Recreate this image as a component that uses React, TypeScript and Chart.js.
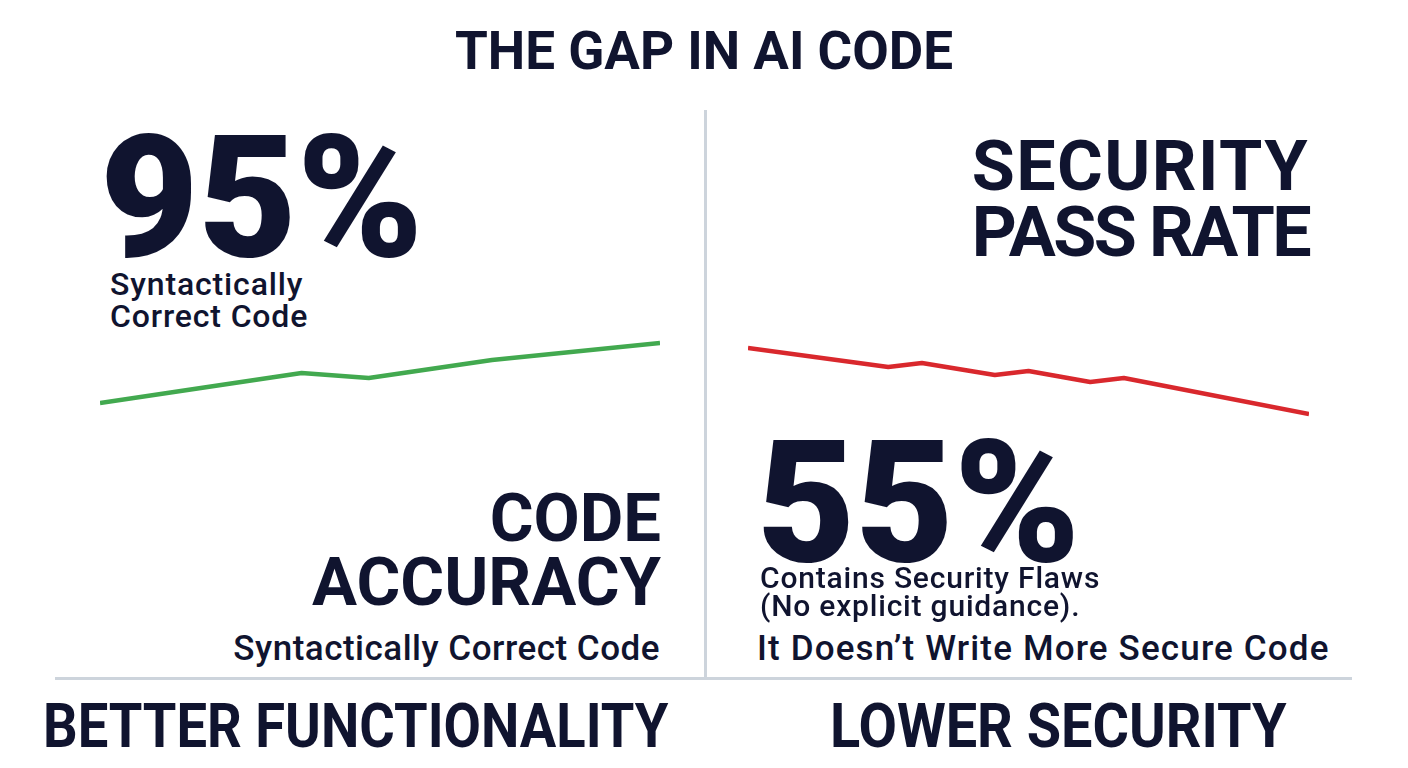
import React, { useEffect, useRef } from 'react';
import { Chart, registerables } from 'chart.js';

Chart.register(...registerables);

// Trend lines (x = position along the period, 0-100; y = relative level, 0-100)
const accuracyX = [0, 18, 36, 48, 70, 100];
const accuracyY = [20, 35, 50, 45, 63, 80];
const securityX = [0, 25, 31, 44, 50, 61, 67, 100];
const securityY = [82, 63, 67, 55, 59, 48, 52, 16];

const accuracyValue = '95%';
const securityValue = '55%';

const NAVY = '#10142f';
const FONT = 'Roboto, "Noto Sans", sans-serif';

// place text so that the capital letters start at capTop
const topFor = (capTop: number, fs: number, lh: number) =>
  capTop - (lh - 1.172 * fs) / 2 - 0.217 * fs;

type TextProps = {
  capTop: number;
  fs: number;
  lh?: number;
  weight?: number;
  left?: number;
  right?: number;
  center?: number;
  spacing?: number;
  scaleX?: number;
  children: React.ReactNode;
};

const Text: React.FC<TextProps> = ({ capTop, fs, lh, weight = 700, left, right, center, spacing = 0, scaleX, children }) => {
  const lineH = lh ?? fs;
  const style: React.CSSProperties = {
    position: 'absolute',
    top: topFor(capTop, fs, lineH),
    fontSize: fs,
    lineHeight: `${lineH}px`,
    fontWeight: weight,
    color: NAVY,
    whiteSpace: 'nowrap',
    letterSpacing: spacing,
  };
  if (left !== undefined) {
    style.left = left;
    if (scaleX) {
      style.transform = `scaleX(${scaleX})`;
      style.transformOrigin = 'left top';
    }
  }
  if (right !== undefined) {
    style.right = 1408 - right;
    style.textAlign = 'right';
  }
  if (center !== undefined) {
    style.left = center;
    style.transform = 'translateX(-50%)';
    style.textAlign = 'center';
  }
  return <div style={style}>{children}</div>;
};

type TrendProps = {
  xs: number[];
  ys: number[];
  color: string;
  left: number;
  top: number;
  width: number;
  height: number;
};

const TrendLine: React.FC<TrendProps> = ({ xs, ys, color, left, top, width, height }) => {
  const chartRef = useRef<HTMLCanvasElement>(null);
  const chartInstance = useRef<Chart | null>(null);

  useEffect(() => {
    if (!chartRef.current) return;
    if (chartInstance.current) chartInstance.current.destroy();

    chartInstance.current = new Chart(chartRef.current, {
      type: 'line',
      data: {
        datasets: [
          {
            data: xs.map((x, i) => ({ x, y: ys[i] })),
            borderColor: color,
            borderWidth: 4.5,
            pointRadius: 0,
            tension: 0,
            borderJoinStyle: 'round',
            fill: false,
          },
        ],
      },
      options: {
        responsive: false,
        animation: false,
        layout: { padding: 5 },
        plugins: { legend: { display: false }, tooltip: { enabled: false } },
        scales: {
          x: { type: 'linear', min: 0, max: 100, display: false },
          y: { min: 0, max: 100, display: false },
        },
      },
    });

    return () => {
      if (chartInstance.current) {
        chartInstance.current.destroy();
        chartInstance.current = null;
      }
    };
  }, [xs, ys, color]);

  return (
    <canvas
      ref={chartRef}
      width={width}
      height={height}
      style={{ position: 'absolute', left, top, width, height }}
    />
  );
};

const App: React.FC = () => {
  return (
    <div
      style={{
        position: 'absolute',
        left: 0,
        top: 0,
        width: 1408,
        height: 768,
        background: '#ffffff',
        fontFamily: FONT,
        overflow: 'hidden',
      }}
    >
      <Text capTop={32} fs={53} center={704}>THE GAP IN AI CODE</Text>

      {/* dividers */}
      <div style={{ position: 'absolute', left: 704, top: 110, width: 3, height: 570, background: '#cdd4dc' }} />
      <div style={{ position: 'absolute', left: 55, top: 677, width: 1297, height: 3, background: '#cdd4dc' }} />

      {/* left half */}
      <Text capTop={135} fs={170} lh={124} weight={900} left={100}>{accuracyValue}</Text>
      <Text capTop={272} fs={32} lh={32} weight={500} left={110} spacing={0.85}>
        Syntactically
        <br />
        Correct Code
      </Text>
      <TrendLine xs={accuracyX} ys={accuracyY} color="#42a94f" left={95} top={318} width={570} height={110} />
      <Text capTop={493} fs={67} lh={64} right={661}>CODE</Text>
      <Text capTop={557} fs={67} lh={64} right={661}>ACCURACY</Text>
      <Text capTop={636} fs={35} weight={500} right={660} spacing={0.5}>Syntactically Correct Code</Text>
      <Text capTop={703} fs={62} left={43} scaleX={0.876}>BETTER FUNCTIONALITY</Text>

      {/* right half */}
      <Text capTop={140} fs={70} lh={66} right={1309} spacing={1.4}>SECURITY</Text>
      <Text capTop={206} fs={70} lh={66} right={1309} spacing={-2.6}>PASS RATE</Text>
      <TrendLine xs={securityX} ys={securityY} color="#d9282d" left={743} top={325} width={571} height={110} />
      <Text capTop={440} fs={170} lh={124} weight={900} left={757}>{securityValue}</Text>
      <Text capTop={567} fs={30} lh={28} weight={500} left={760} spacing={0.8}>
        Contains Security Flaws
        <br />
        (No explicit guidance).
      </Text>
      <Text capTop={636} fs={35} weight={500} left={757} spacing={1.15}>It Doesn’t Write More Secure Code</Text>
      <Text capTop={703} fs={62} left={830} scaleX={0.9}>LOWER SECURITY</Text>
    </div>
  );
};

export default App;
